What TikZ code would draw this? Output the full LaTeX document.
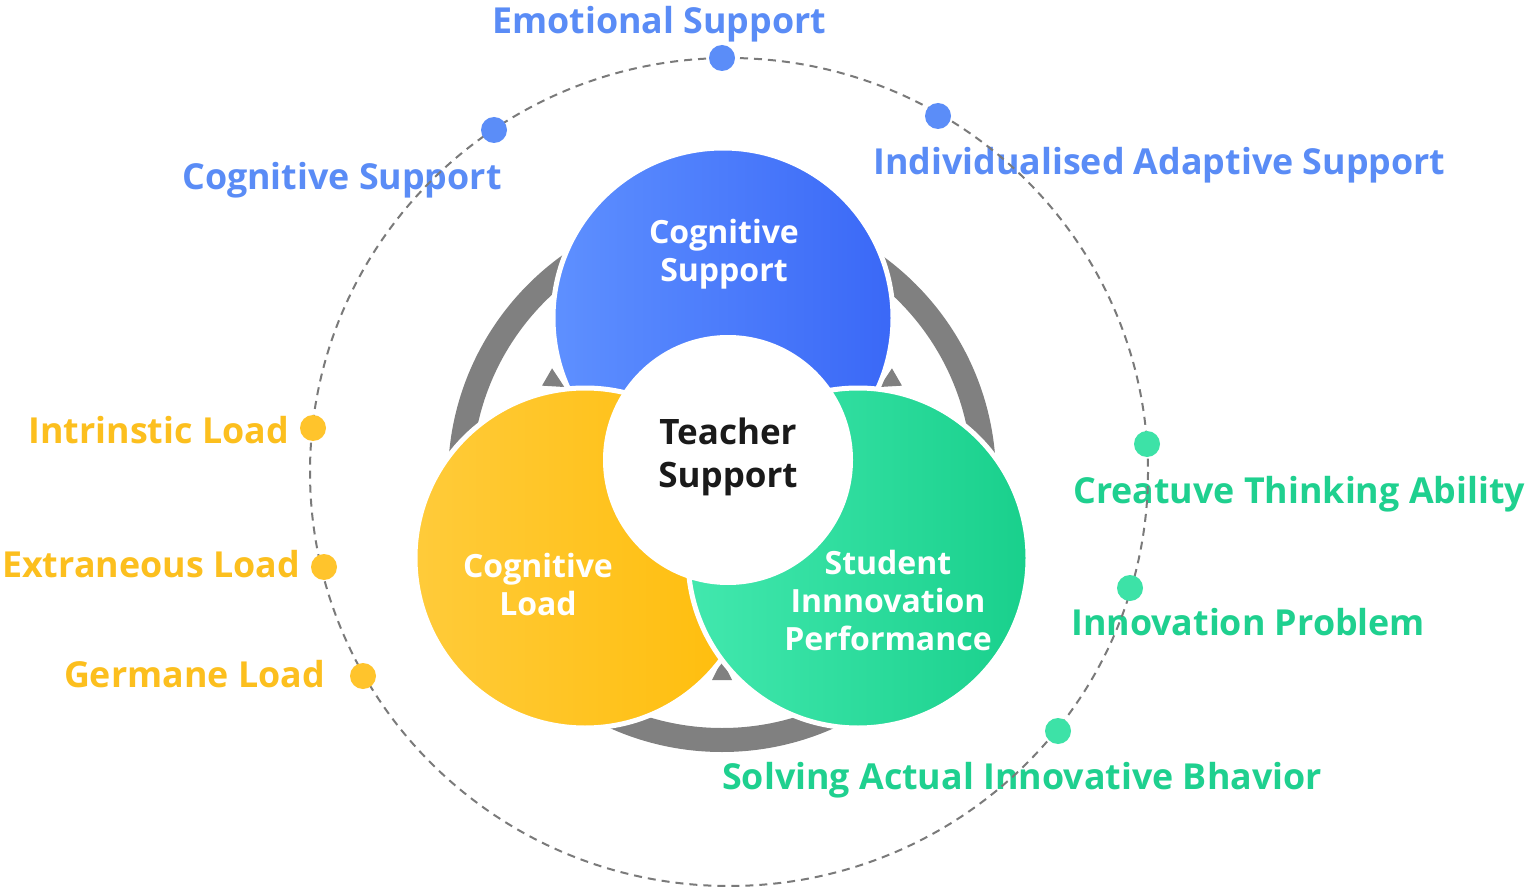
\documentclass[tikz,border=0pt]{standalone}
\usepackage{fontspec}
\setmainfont{Open Sans}
\definecolor{lblblue}{HTML}{5A8CF6}
\definecolor{lblyellow}{HTML}{FCBF1E}
\definecolor{lblgreen}{HTML}{1FD08F}
\definecolor{dotblue}{HTML}{5B8DF8}
\definecolor{dotyellow}{HTML}{FFC42C}
\definecolor{dotgreen}{HTML}{3DE2A7}
\definecolor{blueL}{HTML}{5E90FF}
\definecolor{blueR}{HTML}{3A68F7}
\definecolor{yelL}{HTML}{FFCB3A}
\definecolor{yelR}{HTML}{FFBD0A}
\definecolor{grnL}{HTML}{42E8AE}
\definecolor{grnR}{HTML}{19D08C}
\definecolor{ringgray}{HTML}{808080}
\definecolor{dashgray}{HTML}{7A7A7A}
\definecolor{txtdark}{HTML}{1A1A1A}
\begin{document}
\begin{tikzpicture}[x=1pt,y=-1pt,
  lbl/.style={inner sep=0pt, font=\fontsize{35.8}{43}\selectfont\bfseries},
  dotnode/.style={circle, inner sep=0pt, minimum size=26pt},
  bigcircle/.style={circle, inner sep=0pt, minimum size=340pt, draw=white, line width=5pt},
  intxt/.style={inner sep=0pt, align=center, text=white, font=\fontsize{32}{38}\selectfont\bfseries}]
\useasboundingbox (0,0) rectangle (1535,896);
\fill[white] (0,0) rectangle (1535,896);

% outer labels
\node[lbl, text=lblblue, anchor=base west] (lemo) at (492,33.5) {Emotional Support};
\node[lbl, text=lblblue, anchor=base west] (lcogs) at (182,190) {Cognitive Support};
\node[lbl, text=lblblue, anchor=base west] (lind) at (873,175) {Individualised Adaptive Support};
\node[lbl, text=lblyellow, anchor=base east] (lintr) at (289,443) {Intrinstic Load};
\node[lbl, text=lblyellow, anchor=base east] (lextr) at (300,577) {Extraneous Load};
\node[lbl, text=lblyellow, anchor=base east] (lgerm) at (325,687) {Germane Load};
\node[lbl, text=lblgreen, anchor=base west] (lcreat) at (1073,503) {Creatuve Thinking Ability};
\node[lbl, text=lblgreen, anchor=base west] (linnov) at (1071,635) {Innovation Problem};
\node[lbl, text=lblgreen, anchor=base west] (lsolv) at (722,789) {Solving Actual Innovative Bhavior};

% dashed orbit
\draw[dashgray, line width=2pt, dash pattern=on 8pt off 6pt] (729,472) ellipse [x radius=419, y radius=414];

% dots
\node[dotnode, fill=dotblue] (demo) at (722,58) {};
\node[dotnode, fill=dotblue] (dcogs) at (494,130) {};
\node[dotnode, fill=dotblue] (dind) at (938,116) {};
\node[dotnode, fill=dotyellow] (dintr) at (313,428) {};
\node[dotnode, fill=dotyellow] (dextr) at (324,567) {};
\node[dotnode, fill=dotyellow] (dgerm) at (363,676) {};
\node[dotnode, fill=dotgreen] (dcreat) at (1147,444) {};
\node[dotnode, fill=dotgreen] (dinnov) at (1130,588) {};
\node[dotnode, fill=dotgreen] (dsolv) at (1058,731) {};

% gray ring and pointers
\coordinate (rc) at (722,478);
\draw[ringgray, line width=24pt] (rc) circle (262);
\foreach \r in {0,120,-120}{
  \fill[ringgray, shift={(722,478)}, rotate=\r] (0,182) -- (10,202) -- (-10,202) -- cycle;
}

% three main circles
\node[bigcircle, left color=blueL, right color=blueR] (cs) at (723,318) {};
\node[bigcircle, left color=yelL, right color=yelR] (cl) at (585,558) {};
\node[bigcircle, left color=grnL, right color=grnR] (sp) at (858,558) {};
\node[circle, inner sep=0pt, minimum size=250pt, fill=white] (ts) at (728,460) {};

% inner texts
\node[intxt] (tcs) at (724,254) {Cognitive\\Support};
\node[intxt] (tcl) at (538,584) {Cognitive\\Load};
\node[intxt] (tsp) at (888,600) {Student\\Innnovation\\Performance};
\node[inner sep=0pt, align=center, text=txtdark, font=\fontsize{35}{43}\selectfont\bfseries] (tts) at (728,457) {Teacher\\Support};
\end{tikzpicture}
\end{document}
